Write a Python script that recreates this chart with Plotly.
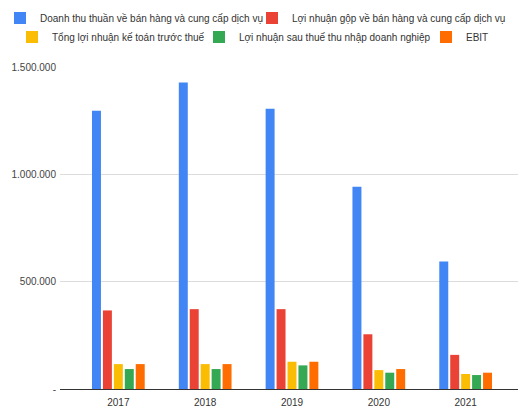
import plotly.graph_objects as go

years = ["2017", "2018", "2019", "2020", "2021"]
series_names = [
    "Doanh thu thuần về bán hàng và cung cấp dịch vụ",
    "Lợi nhuận gộp về bán hàng và cung cấp dịch vụ",
    "Tổng lợi nhuận kế toán trước thuế",
    "Lợi nhuận sau thuế thu nhập doanh nghiệp",
    "EBIT",
]
doanh_thu = [1296000, 1428000, 1306000, 942000, 594000]
loi_nhuan_gop = [366000, 372000, 372000, 255000, 159000]
tong_ln_truoc_thue = [116000, 116000, 127000, 88000, 70000]
ln_sau_thue = [93000, 93000, 110000, 76000, 65000]
ebit = [116000, 116000, 127000, 93000, 76000]
values = [doanh_thu, loi_nhuan_gop, tong_ln_truoc_thue, ln_sau_thue, ebit]
colors = ["#4285F4", "#EA4335", "#FBBC04", "#34A853", "#FF6D01"]

tick_vals = [0, 500000, 1000000, 1500000]
tick_text = ["-", "500.000", "1.000.000", "1.500.000"]

FONT = "Liberation Sans, Arial, sans-serif"
W, H = 519, 409

# legend placement (pixels): one legend per entry, arranged in two centred rows
legend_px = [(-6, 18), (252, 18), (12, 37), (199, 37), (426, 37)]
legend_ids = ["legend2", "legend3", "legend4", "legend5", "legend6"]

fig = go.Figure()
for name, vals, col, lg in zip(series_names, values, colors, legend_ids):
    fig.add_trace(go.Bar(x=years, y=vals, name=name,
                         marker=dict(color=col, line=dict(width=0)),
                         legend=lg))

legend_layout = {}
for lg, (px, py) in zip(legend_ids, legend_px):
    legend_layout[lg] = dict(orientation="h", xref="container", yref="container",
                             x=px / W, xanchor="left", y=1 - py / H, yanchor="middle",
                             font=dict(family=FONT, size=10, color="#333"),
                             bgcolor="rgba(0,0,0,0)", itemwidth=30)

fig.update_layout(
    width=W, height=H,
    margin=dict(l=60, r=1, t=67, b=20, autoexpand=False),
    paper_bgcolor="white", plot_bgcolor="white",
    font=dict(family=FONT, size=10, color="#444"),
    barmode="group", bargap=0.37, bargroupgap=0.18,
    xaxis=dict(type="category", range=[-0.672, 4.603], showgrid=False, ticks="",
               tickfont=dict(family=FONT, size=10, color="#333"), showline=False,
               ticklabelstandoff=6),
    yaxis=dict(range=[0, 1500000], tickvals=tick_vals, ticktext=tick_text, showgrid=True,
               gridcolor="#dcdcdc", gridwidth=1, zeroline=True, zerolinecolor="#333",
               zerolinewidth=1.3, ticks="", tickfont=dict(family=FONT, size=10, color="#444"),
               ticklabelstandoff=3),
    **legend_layout,
)

fig.write_html("out.html")
